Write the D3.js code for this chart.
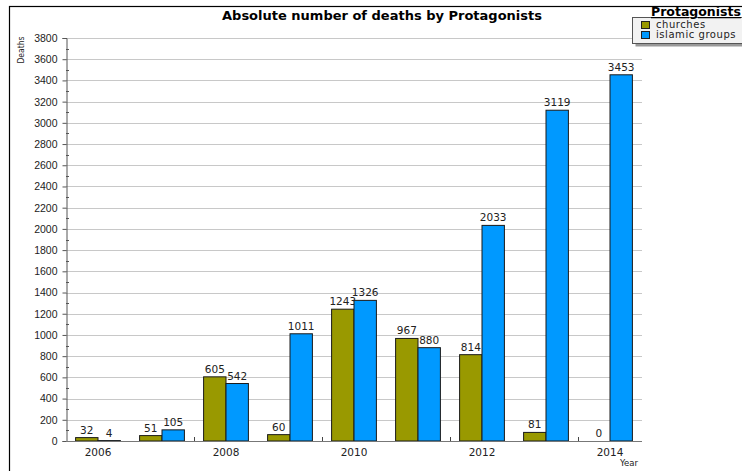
<!DOCTYPE html>
<html>
<head>
<meta charset="utf-8">
<script src="https://cdn.jsdelivr.net/npm/d3@7/dist/d3.min.js"></script>
<style>
  html, body { margin: 0; padding: 0; background: #fff; }
  svg { display: block; font-family: "DejaVu Sans", sans-serif; }
</style>
</head>
<body>
<svg id="chart" width="742" height="471"></svg>
<script>
// Deaths per year, by protagonist
const years = ["2006", "2007", "2008", "2009", "2010", "2011", "2012", "2013", "2014"];
const churches = [32, 51, 605, 60, 1243, 967, 814, 81, 0];
const islamicGroups = [4, 105, 542, 1011, 1326, 880, 2033, 3119, 3453];
const seriesNames = ["churches", "islamic groups"];
const seriesColors = ["#999900", "#0099ff"];
const yTickValues = d3.range(0, 3801, 200);
const xTickLabels = ["2006", "2008", "2010", "2012", "2014"];

const svg = d3.select("#chart");
const plotLeft = 66, plotRight = 642, plotTop = 38, plotBottom = 441;

// outer frame
svg.append("rect").attr("x", 9.5).attr("y", 6.5).attr("width", 760).attr("height", 500)
  .attr("fill", "none").attr("stroke", "#000").attr("stroke-width", 1.2);

const x = d3.scaleBand().domain(years).range([plotLeft, plotRight]).paddingInner(0).paddingOuter(0);
const inner = d3.scaleBand().domain(seriesNames).range([x.bandwidth() * 0.15, x.bandwidth() * 0.85]);
const y = d3.scaleLinear().domain([0, 3800]).range([plotBottom, plotTop]);

// gridlines
svg.append("g").selectAll("line").data(yTickValues).join("line")
  .attr("x1", plotLeft).attr("x2", plotRight)
  .attr("y1", d => Math.round(y(d)) + 0.5).attr("y2", d => Math.round(y(d)) + 0.5)
  .attr("stroke", "#c8c8c8").attr("stroke-width", 1);

// y axis: major ticks outward, minor ticks inward
const yAxis = svg.append("g").attr("transform", `translate(${plotLeft + 0.5},0)`)
  .call(d3.axisLeft(y).tickValues(yTickValues).tickSize(4).tickPadding(5).tickFormat(d3.format("d")));
yAxis.select(".domain").attr("stroke", "#555");
yAxis.selectAll(".tick line").attr("stroke", "#555");
yAxis.selectAll("text").attr("font-size", 10.5).attr("fill", "#222");
svg.append("g").selectAll("line").data(d3.range(100, 3800, 200)).join("line")
  .attr("x1", plotLeft).attr("x2", plotLeft + 3)
  .attr("y1", d => Math.round(y(d)) + 0.5).attr("y2", d => Math.round(y(d)) + 0.5)
  .attr("stroke", "#555");

// bars and value labels, series by series
const series = [churches, islamicGroups];
series.forEach((vals, si) => {
  const g = svg.append("g");
  g.selectAll("rect").data(vals).join("rect")
    .attr("x", (d, i) => x(years[i]) + inner(seriesNames[si]))
    .attr("y", d => y(d))
    .attr("width", inner.bandwidth())
    .attr("height", d => y(0) - y(d))
    .attr("fill", seriesColors[si])
    .attr("stroke", "#1a1a1a").attr("stroke-width", 1);
  g.selectAll("text").data(vals).join("text")
    .attr("x", (d, i) => x(years[i]) + inner(seriesNames[si]) + inner.bandwidth() / 2)
    .attr("y", d => y(d) - 4)
    .attr("text-anchor", "middle")
    .attr("font-size", 10.5).attr("fill", "#222")
    .text(d => d);
});

// x axis
svg.append("line").attr("x1", plotLeft).attr("x2", plotRight)
  .attr("y1", plotBottom + 0.5).attr("y2", plotBottom + 0.5).attr("stroke", "#777");
svg.append("g").selectAll("line").data([2, 4, 6, 8]).join("line")
  .attr("x1", d => plotLeft + d * x.bandwidth() + 0.5).attr("x2", d => plotLeft + d * x.bandwidth() + 0.5)
  .attr("y1", plotBottom - 4).attr("y2", plotBottom).attr("stroke", "#444");
svg.append("g").selectAll("text").data(xTickLabels).join("text")
  .attr("x", d => x(d) + x.bandwidth() / 2)
  .attr("y", plotBottom + 15)
  .attr("text-anchor", "middle").attr("font-size", 10.5).attr("fill", "#222")
  .text(d => d);

// axis titles
svg.append("text").attr("transform", "translate(24,50) rotate(-90)")
  .attr("text-anchor", "middle").attr("font-size", 8.5)
  .attr("font-family", "'DejaVu Sans Condensed', 'DejaVu Sans', sans-serif")
  .attr("fill", "#222").text("Deaths");
svg.append("text").attr("x", 629).attr("y", 466).attr("text-anchor", "middle")
  .attr("font-size", 8.5).attr("fill", "#222").text("Year");

// title
svg.append("text").attr("x", 382).attr("y", 20).attr("text-anchor", "middle")
  .attr("font-size", 13).attr("font-weight", "bold").attr("fill", "#000")
  .text("Absolute number of deaths by Protagonists");

// legend
const lg = svg.append("g");
lg.append("rect").attr("x", 635.5).attr("y", 20.5).attr("width", 120).attr("height", 26).attr("fill", "#999");
lg.append("rect").attr("x", 632.5).attr("y", 17.5).attr("width", 120).attr("height", 26)
  .attr("fill", "#f2f2f2").attr("stroke", "#555");
lg.append("text").attr("x", 651).attr("y", 16).attr("font-size", 12.5).attr("font-weight", "bold")
  .attr("text-decoration", "underline").attr("fill", "#000").text("Protagonists");
seriesNames.forEach((name, i) => {
  lg.append("rect").attr("x", 641.5).attr("y", 21.5 + i * 10).attr("width", 8).attr("height", 7)
    .attr("fill", seriesColors[i]).attr("stroke", "#222");
  lg.append("text").attr("x", 656).attr("y", 28 + i * 10).attr("font-size", 10)
    .attr("letter-spacing", 0.55)
    .attr("fill", "#222").text(name);
});
</script>
</body>
</html>
